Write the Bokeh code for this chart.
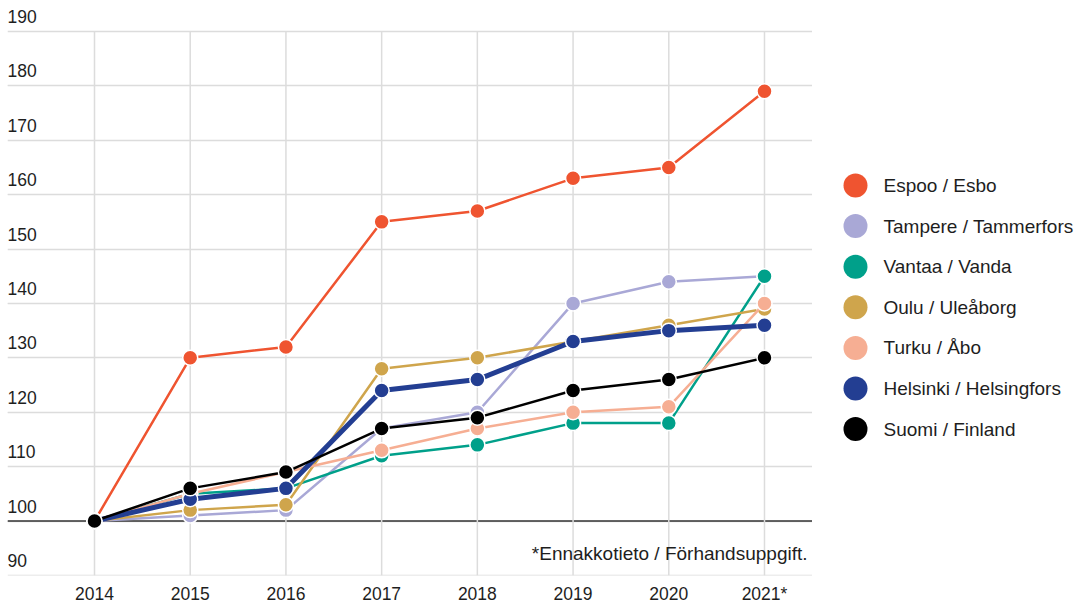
from bokeh.plotting import figure
from bokeh.models import ColumnDataSource, FixedTicker, Range1d, Grid, Span
from bokeh.layouts import row
from bokeh.core.properties import value
from bokeh.embed import file_html
from bokeh.resources import INLINE

years = ["2014", "2015", "2016", "2017", "2018", "2019", "2020", "2021*"]
yticks = [90, 100, 110, 120, 130, 140, 150, 160, 170, 180, 190]

names = ["Espoo / Esbo", "Tampere / Tammerfors", "Vantaa / Vanda", "Oulu / Uleåborg",
         "Turku / Åbo", "Helsinki / Helsingfors", "Suomi / Finland"]
espoo = [100, 130, 132, 155, 157, 163, 165, 179]
tampere = [100, 101, 102, 117, 120, 140, 144, 145]
vantaa = [100, 105, 106, 112, 114, 118, 118, 145]
oulu = [100, 102, 103, 128, 130, 133, 136, 139]
turku = [100, 105, 109, 113, 117, 120, 121, 140]
helsinki = [100, 104, 106, 124, 126, 133, 135, 136]
suomi = [100, 106, 109, 117, 119, 124, 126, 130]
series = [espoo, tampere, vantaa, oulu, turku, helsinki, suomi]
colors = ["#EF5430", "#A9A8D6", "#00A08A", "#CFA54C", "#F6AE93", "#233E92", "#000000"]
widths = [2.5, 2.5, 2.5, 2.5, 2.5, 5, 2.5]
footnote = "*Ennakkotieto / Förhandsuppgift."

FONT = "Liberation Sans"
TXT = "#1e1e1e"
GRID = "#dcdcdc"

x_idx = list(range(len(years)))
X0, X1 = -0.909, 7.5015
Y0, Y1 = 89.98, 195.7

p = figure(width=812, height=606, output_backend="svg", toolbar_location=None,
           x_range=Range1d(X0, X1), y_range=Range1d(Y0, Y1),
           y_axis_location=None, min_border_left=7, min_border_right=0,
           min_border_top=0, min_border_bottom=31)
p.outline_line_color = None
p.background_fill_color = "white"
p.xgrid.visible = False

p.add_layout(Grid(dimension=1, ticker=FixedTicker(ticks=yticks),
                  grid_line_color=GRID, grid_line_width=1.5))

# vertical grid lines (from 90 to 190)
p.segment(x0=x_idx, y0=[yticks[0]] * len(x_idx), x1=x_idx, y1=[yticks[-1]] * len(x_idx),
          line_color=GRID, line_width=1.5)

p.add_layout(Span(location=100, dimension="width", line_color="#333333",
                  line_width=1.5, level="underlay"))

p.xaxis.ticker = FixedTicker(ticks=x_idx)
p.xaxis.major_label_overrides = {i: y for i, y in zip(x_idx, years)}
p.xaxis.axis_line_color = None
p.xaxis.major_tick_line_color = None
p.xaxis.minor_tick_line_color = None
p.xaxis.major_tick_out = 0
p.xaxis.major_tick_in = 0
p.xaxis.minor_tick_out = 0
p.xaxis.major_label_standoff = 8
p.xaxis.major_label_text_font = FONT
p.xaxis.major_label_text_font_size = "17.5px"
p.xaxis.major_label_text_color = TXT

# y labels above grid lines
ysrc = ColumnDataSource(dict(x=[X0] * len(yticks), y=yticks, t=[str(v) for v in yticks]))
p.text(x="x", y="y", text="t", source=ysrc, x_offset=0, y_offset=-15,
       text_align="left", text_baseline="alphabetic", text_font=value(FONT),
       text_font_size="17.5px", text_color=TXT)

for vals, c, w in zip(series, colors, widths):
    src = ColumnDataSource(dict(x=x_idx, y=vals))
    p.line("x", "y", source=src, line_color=c, line_width=w)
    p.scatter("x", "y", source=src, size=15, fill_color=c, line_color="white", line_width=1.5)

p.text(x=[X1], y=[yticks[0]], text=[footnote], x_offset=-5, y_offset=-22,
       text_align="right", text_baseline="alphabetic", text_font=value(FONT),
       text_font_size="19px", text_color=TXT)

# legend panel (frame aligned with the main frame: 0..575 px)
leg = figure(width=268, height=606, output_backend="svg", toolbar_location=None,
             x_range=Range1d(0, 268), y_range=Range1d(575, 0),
             x_axis_location=None, y_axis_location=None,
             min_border_left=0, min_border_right=0, min_border_top=0, min_border_bottom=31)
leg.outline_line_color = None
leg.xgrid.visible = False
leg.ygrid.visible = False
ly = [185 + 40.6 * i for i in range(len(names))]
lsrc = ColumnDataSource(dict(x=[43] * len(names), tx=[71] * len(names), y=ly, c=colors, t=names))
leg.scatter("x", "y", source=lsrc, size=24, fill_color="c", line_color=None)
leg.text(x="tx", y="y", text="t", source=lsrc, text_align="left", text_baseline="middle",
         text_font=value(FONT), text_font_size="19px", text_color=TXT)

layout = row(p, leg)
open("out.html", "w").write(file_html(layout, INLINE))
